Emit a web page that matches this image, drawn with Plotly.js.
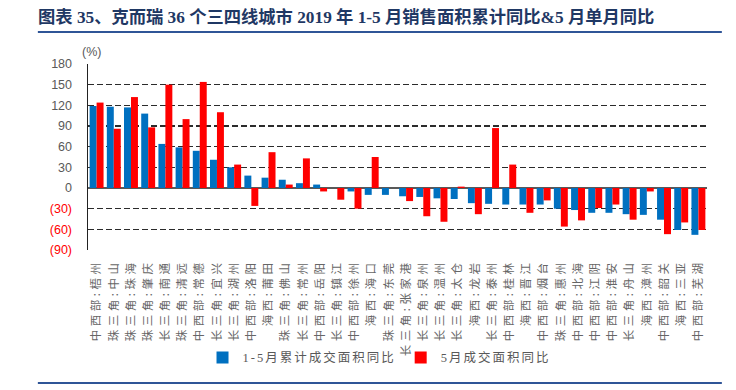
<!DOCTYPE html>
<html>
<head>
<meta charset="utf-8">
<script src="https://cdn.plot.ly/plotly-3.0.1.min.js"></script>
<style>
  html, body { margin: 0; padding: 0; background: #fff; }
  #chart { width: 736px; height: 390px; }
  .xtick text { letter-spacing: 3.5px; }
  .legendtext { letter-spacing: 2px; }
</style>
</head>
<body>
<div id="chart"></div>
<script>
// Categories (city labels)
const categories = [
  "中西部:梧州", "珠三角:中山", "珠三角:珠海", "珠三角:肇庆", "长三角:南通", "珠三角:清远",
  "中西部:常德", "长三角:宜兴", "长三角:湖州", "中西部:洛阳", "海西:莆田", "珠三角:佛山",
  "长三角:常州", "中西部:岳阳", "长三角:镇江", "中西部:徐州", "海西:海口", "珠三角:东莞",
  "长三角:张家港", "长三角:泉州", "长三角:温州", "长三角:太仓", "海西:龙岩", "长三角:泰州",
  "中西部:桂林", "海西:晋江", "中西部:烟台", "珠三角:惠州", "中西部:北海", "中西部:江阴",
  "中西部:淮安", "长三角:舟山", "海西:漳州", "中西部:韶关", "海西:三亚", "中西部:芜湖"
];

// 1-5月累计成交面积同比 (%)
const cumulativeYoY = [
  119, 118, 117, 108, 64, 59,
  54, 41, 30, 18, 15, 12,
  7, 5, 0, -5, -10, -10,
  -12, -13, -15, -16, -22, -23,
  -24, -24, -24, -30, -32, -36,
  -36, -38, -39, -46, -61, -68
];

// 5月成交面积同比 (%)
const mayYoY = [
  124, 86, 132, 88, 150, 100,
  154, 110, 34, -26, 52, 5,
  43, -5, -17, -30, 45, 0,
  -19, -41, -49, 2, -38, 87,
  34, -36, -18, -56, -47, -29,
  -24, -46, -5, -67, -50, -61
];

// Y axis ticks
const yTickVals = [180, 150, 120, 90, 60, 30, 0, -30, -60, -90];
const yTickText = ["180", "150", "120", "90", "60", "30", "0", "(30)", "(60)", "(90)"];

const seriesNames = ["1-5月累计成交面积同比", "5月成交面积同比"];
const chartTitle = "图表 35、克而瑞 36 个三四线城市 2019 年 1-5 月销售面积累计同比&5 月单月同比";

const yTickTextStyled = yTickText.map((t, i) =>
  yTickVals[i] < 0 ? '<span style="color:#FF0000">' + t + '</span>' : t);

const traces = [
  {
    type: 'bar', name: seriesNames[0], x: categories, y: cumulativeYoY,
    marker: { color: '#0070C0' }, hoverinfo: 'x+y'
  },
  {
    type: 'bar', name: seriesNames[1], x: categories, y: mayYoY,
    marker: { color: '#FF0000' }, hoverinfo: 'x+y'
  }
];

const layout = {
  width: 736, height: 390,
  margin: { l: 88, r: 29, t: 64, b: 140, pad: 0 },
  paper_bgcolor: '#ffffff', plot_bgcolor: '#ffffff',
  barmode: 'group', bargap: 0.19, bargroupgap: 0,
  showlegend: true,
  title: {
    text: '<b>' + chartTitle + '</b>',
    x: 38 / 736, xanchor: 'left', xref: 'container',
    y: 1 - 17 / 390, yanchor: 'middle', yref: 'container',
    font: { family: '"Liberation Serif", "Noto Sans CJK SC", serif', size: 17.3, color: '#1F3864' }
  },
  xaxis: {
    type: 'category',
    tickangle: -90,
    tickfont: { family: '"Noto Sans CJK SC", sans-serif', size: 11.5, color: '#666666' },
    ticks: 'outside', ticklen: 4, tickcolor: 'rgba(0,0,0,0)',
    showgrid: false, showline: false, zeroline: false,
    fixedrange: true
  },
  yaxis: {
    range: [-90, 180],
    tickvals: yTickVals, ticktext: yTickTextStyled,
    tickfont: { family: '"Liberation Sans", Arial, sans-serif', size: 12.5, color: '#595959' },
    ticks: 'outside', ticklen: 12, tickcolor: 'rgba(0,0,0,0)',
    showgrid: true, gridcolor: '#2b2b2b', gridwidth: 1.4, griddash: '6px,3px',
    zeroline: true, zerolinecolor: '#595959', zerolinewidth: 1.5,
    showline: true, linecolor: '#222222', linewidth: 1.5,
    fixedrange: true
  },
  legend: {
    orientation: 'h',
    x: 0.185, xanchor: 'left',
    y: -0.58, yanchor: 'middle',
    font: { family: '"Liberation Serif", "Noto Sans CJK SC", serif', size: 12.5, color: '#595959' },
    itemwidth: 30,
    traceorder: 'normal',
    bgcolor: 'rgba(0,0,0,0)'
  },
  annotations: [
    {
      text: '(%)', xref: 'paper', yref: 'paper', x: 0.006, y: 1.065,
      xanchor: 'center', yanchor: 'middle', showarrow: false,
      font: { family: '"Liberation Sans", Arial, sans-serif', size: 12.5, color: '#595959' }
    }
  ],
  shapes: [
    { type: 'line', xref: 'paper', yref: 'paper', x0: -0.081, x1: 1.024, y0: 1.172, y1: 1.172,
      line: { color: '#2F5597', width: 2 } },
    { type: 'line', xref: 'paper', yref: 'paper', x0: -0.081, x1: 1.024, y0: -0.715, y1: -0.715,
      line: { color: '#2F5597', width: 2 } }
  ]
};

Plotly.newPlot('chart', traces, layout, { displayModeBar: false, staticPlot: true });
</script>
</body>
</html>
